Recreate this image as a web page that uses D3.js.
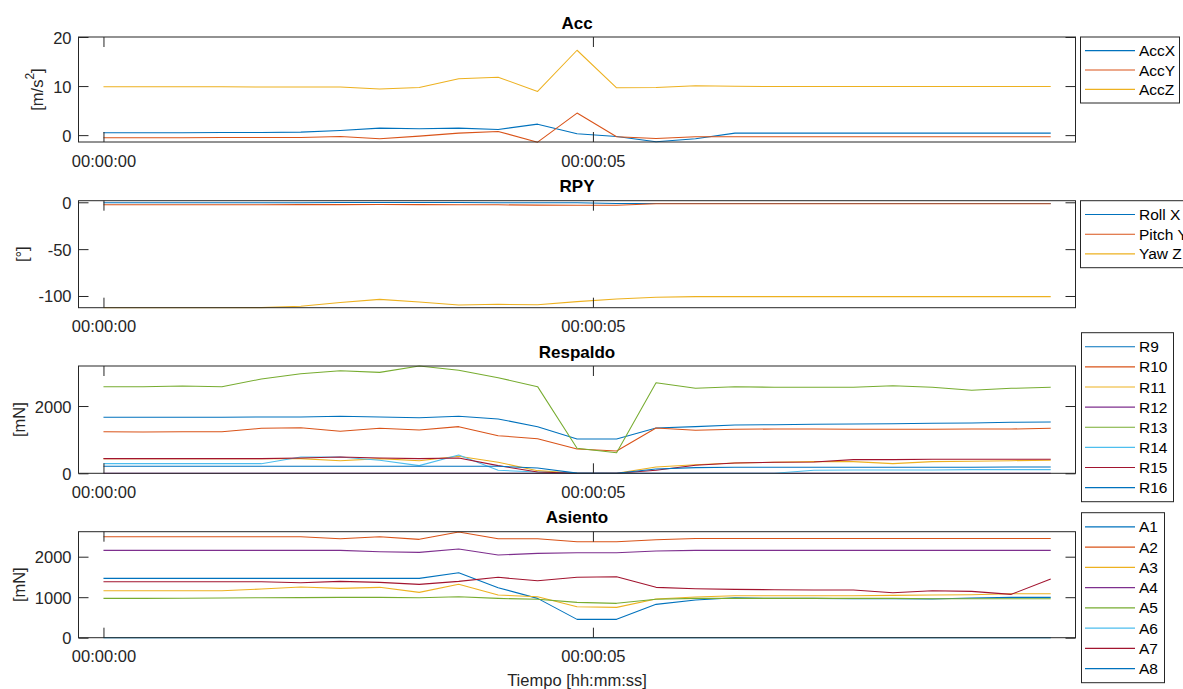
<!DOCTYPE html>
<html><head><meta charset="utf-8">
<script src="https://cdn.jsdelivr.net/npm/d3@7/dist/d3.min.js"></script>
<style>
body{margin:0;background:#fff}
svg{display:block}
text{font-family:"Liberation Sans",Arial,Helvetica,sans-serif}
</style>
</head><body>
<svg id="chart" width="1183" height="689"></svg>
<script>
// ---------- data ----------
const sampleTimes = [0, 0.403, 0.806, 1.210, 1.613, 2.016, 2.419, 2.822, 3.226, 3.629, 4.032, 4.435, 4.838,
  5.242, 5.645, 6.048, 6.451, 6.854, 7.258, 7.661, 8.064, 8.467, 8.870, 9.274, 9.677];
const xTickValues = [0, 5];
const xTickLabels = ["00:00:00", "00:00:05"];

const accNames = ["AccX", "AccY", "AccZ"];
const accX = [0.48,0.48,0.50,0.52,0.55,0.61,0.95,1.43,1.29,1.43,1.16,2.24,0.27,-0.27,-1.36,-0.75,0.41,0.41,0.41,0.41,0.41,0.41,0.41,0.41,0.41];
const accY = [-0.54,-0.54,-0.52,-0.50,-0.50,-0.48,-0.27,-0.75,-0.20,0.41,0.75,-1.43,4.50,-0.34,-0.70,-0.34,-0.34,-0.34,-0.34,-0.34,-0.34,-0.34,-0.34,-0.34,-0.34];
const accZ = [9.85,9.85,9.85,9.85,9.80,9.80,9.80,9.40,9.70,11.5,11.8,8.90,17.3,9.65,9.70,10.05,9.95,9.90,9.90,9.90,9.90,9.90,9.90,9.90,9.90];
const accTicks = [0, 10, 20];

const rpyNames = ["Roll X", "Pitch Y", "Yaw Z"];
const rollX  = [-0.5,-0.5,-0.5,-0.5,-0.5,-0.4,-0.3,-0.2,-0.3,-0.3,-0.4,-0.5,-0.4,-1.2,-1.2,-1.2,-1.2,-1.2,-1.2,-1.2,-1.2,-1.2,-1.2,-1.2,-1.2];
const pitchY = [-2.6,-2.6,-2.6,-2.6,-2.6,-2.5,-2.5,-2.4,-2.5,-2.6,-2.7,-3.0,-3.1,-3.2,-1.6,-1.5,-1.5,-1.5,-1.5,-1.5,-1.5,-1.5,-1.5,-1.5,-1.5];
const yawZ   = [-112.5,-112.5,-112.5,-112.5,-112.4,-111,-107,-103.6,-106.4,-109.6,-108.9,-109.3,-106,-103.2,-101.4,-100.7,-100.7,-100.7,-100.7,-100.7,-100.7,-100.7,-100.7,-100.7,-100.7];
const rpyTicks = [-100, -50, 0];

const respaldoNames = ["R9","R10","R11","R12","R13","R14","R15","R16"];
const r9  = [1664,1664,1664,1664,1674,1674,1694,1674,1654,1694,1615,1387,1020,1020,1347,1387,1436,1446,1456,1466,1476,1486,1496,1516,1525];
const r10 = [1238,1228,1238,1238,1337,1357,1248,1337,1288,1387,1119,1030,723,664,1347,1278,1307,1317,1317,1307,1307,1307,1317,1317,1337];
const r11 = [436,436,436,436,436,436,376,436,376,505,327,79,0,0,188,257,307,327,347,347,287,347,357,376,386];
const r12 = [0,0,0,0,0,0,0,0,0,0,0,0,0,0,0,0,0,0,0,0,0,0,0,0,0];
const r13 = [2576,2576,2595,2576,2803,2962,3051,3001,3190,3061,2843,2576,743,614,2694,2526,2576,2556,2556,2556,2605,2556,2467,2526,2556];
const r14 = [287,287,287,287,287,485,485,386,228,545,89,40,10,0,0,0,0,0,90,100,100,100,110,110,110];
const r15 = [436,436,436,436,436,455,485,455,436,455,228,40,0,0,89,238,307,327,337,406,406,416,416,416,416];
const r16 = [208,208,208,208,208,208,208,208,208,208,208,160,5,0,129,168,178,178,178,178,178,178,178,188,188];
const respaldoTicks = [0, 2000];

const asientoNames = ["A1","A2","A3","A4","A5","A6","A7","A8"];
const a1 = [1465,1465,1465,1465,1465,1465,1465,1465,1465,1605,1235,971,453,453,823,930,988,971,971,963,963,955,980,996,996];
const a2 = [2494,2494,2494,2494,2494,2494,2444,2494,2428,2609,2444,2444,2370,2370,2420,2450,2450,2450,2450,2450,2450,2450,2450,2450,2450];
const a3 = [1160,1160,1160,1160,1200,1251,1218,1243,1119,1317,1053,1012,765,749,955,1004,1037,1037,1037,1037,1045,1053,1061,1086,1086];
const a4 = [2156,2156,2156,2156,2156,2156,2156,2123,2107,2189,2041,2082,2099,2099,2140,2156,2156,2156,2156,2156,2156,2156,2156,2156,2156];
const a5 = [971,971,975,980,985,990,996,996,988,1012,971,947,872,848,947,971,971,971,971,971,971,963,963,963,963];
const a6 = [0,0,0,0,0,0,0,0,0,0,0,0,0,0,0,0,0,0,0,0,0,0,0,0,0];
const a7 = [1383,1383,1383,1383,1383,1358,1391,1366,1317,1391,1490,1407,1490,1506,1243,1210,1193,1185,1177,1177,1111,1160,1144,1070,1449];
const a8 = [0,0,0,0,0,0,0,0,0,0,0,0,0,0,0,0,0,0,0,0,0,0,0,0,0];
const asientoTicks = [0, 1000, 2000];

const lineColors = ["#0072BD","#D95319","#EDB120","#7E2F8E","#77AC30","#4DBEEE","#A2142F"];

// ---------- layout ----------
const svg = d3.select("#chart");
const X0 = 78.5, X1 = 1075.5;
const x = d3.scaleLinear().domain([-0.255, 9.93]).range([X0, X1]);
const ink = "#262626";
const TICK = 10;

const panels = [
  {title:"Acc", ylabel:"m/s2", top:37, bottom:142, domain:[-1.4,20], ticks:accTicks,
   names:accNames, series:[accX,accY,accZ], ylabX:37,
   legend:{x:1080, y:37, w:99, h:66}},
  {title:"RPY", ylabel:"[°]", top:200.7, bottom:307.7, domain:[-112.5,1.7], ticks:rpyTicks,
   names:rpyNames, series:[rollX,pitchY,yawZ], ylabX:22,
   legend:{x:1080, y:200.7, w:130, h:67}},
  {title:"Respaldo", ylabel:"[mN]", top:366, bottom:473.3, domain:[0,3190], ticks:respaldoTicks,
   names:respaldoNames, series:[r9,r10,r11,r12,r13,r14,r15,r16], ylabX:19,
   legend:{x:1081, y:332.7, w:92, h:169}},
  {title:"Asiento", ylabel:"[mN]", top:531.7, bottom:637.7, domain:[0,2617], ticks:asientoTicks,
   names:asientoNames, series:[a1,a2,a3,a4,a5,a6,a7,a8], ylabX:19, raise:5,
   legend:{x:1081, y:512.7, w:83, h:170}}
];

panels.forEach(p => {
  const g = svg.append("g");
  const y = d3.scaleLinear().domain(p.domain).range([p.bottom, p.top]);
  const clipId = "clip-" + p.title;
  svg.append("clipPath").attr("id", clipId).append("rect")
    .attr("x", X0).attr("y", p.top - 1).attr("width", X1 - X0).attr("height", p.bottom - p.top + 2);

  // lines
  const line = d3.line().x((d,i) => x(sampleTimes[i])).y(d => y(d));
  let order = p.series.map((s,i) => i);
  if (p.raise !== undefined) { order = order.filter(i => i !== p.raise).concat([p.raise]); }
  const lg = g.append("g").attr("clip-path", `url(#${clipId})`);
  order.forEach(i => {
    lg.append("path").datum(p.series[i])
      .attr("d", line).attr("fill","none")
      .attr("stroke", lineColors[i % lineColors.length]).attr("stroke-width", 1.05)
      .attr("stroke-linejoin","round");
  });

  // box
  g.append("rect").attr("x", X0).attr("y", p.top).attr("width", X1 - X0).attr("height", p.bottom - p.top)
    .attr("fill","none").attr("stroke", ink).attr("stroke-width", 1);

  // axes via d3
  const ax = g.append("g").attr("transform", `translate(0,${p.bottom})`)
    .call(d3.axisBottom(x).tickValues(xTickValues).tickFormat((d,i) => xTickLabels[i]).tickSizeInner(-TICK).tickSizeOuter(0).tickPadding(13));
  const axTop = g.append("g").attr("transform", `translate(0,${p.top})`)
    .call(d3.axisTop(x).tickValues(xTickValues).tickFormat("").tickSizeInner(-TICK).tickSizeOuter(0));
  const ay = g.append("g").attr("transform", `translate(${X0},0)`)
    .call(d3.axisLeft(y).tickValues(p.ticks).tickFormat(d => String(d)).tickSizeInner(-TICK).tickSizeOuter(0).tickPadding(7));
  const ayR = g.append("g").attr("transform", `translate(${X1},0)`)
    .call(d3.axisRight(y).tickValues(p.ticks).tickFormat("").tickSizeInner(-TICK).tickSizeOuter(0));
  [ax, axTop, ay, ayR].forEach(a => {
    a.select(".domain").remove();
    a.selectAll(".tick line").attr("stroke", ink).attr("stroke-width", 1);
    a.selectAll("text").attr("fill", ink).style("font-size","16.5px")
      .style("font-family",'"Liberation Sans",Arial,sans-serif');
  });
  ax.selectAll("text").attr("dy", null).attr("dominant-baseline","central").attr("y", 18.5);
  ay.selectAll("text").attr("dy", null).attr("dominant-baseline","central");

  // title
  g.append("text").attr("x", (X0 + X1) / 2).attr("y", p.top - 14)
    .attr("text-anchor","middle").attr("dominant-baseline","central")
    .style("font-size","17px").style("font-weight","bold").attr("fill","#000").text(p.title);

  // y label
  const yl = g.append("text")
    .attr("transform", `translate(${p.ylabX},${(p.top + p.bottom) / 2}) rotate(-90)`)
    .attr("text-anchor","middle").attr("dominant-baseline","central")
    .style("font-size","16.5px").attr("fill", ink);
  if (p.ylabel === "m/s2") {
    yl.append("tspan").text("[m/s");
    yl.append("tspan").text("2").style("font-size","12px").attr("dy", -7);
    yl.append("tspan").text("]").attr("dy", 7);
  } else {
    yl.text(p.ylabel);
  }

  // legend
  const L = p.legend;
  const leg = svg.append("g");
  leg.append("rect").attr("x", L.x + 0.5).attr("y", L.y).attr("width", L.w).attr("height", L.h)
    .attr("fill","#fff").attr("stroke", ink).attr("stroke-width", 1);
  const n = p.names.length;
  const step = (L.h - 8) / n;
  p.names.forEach((name, i) => {
    const cy = L.y + 4 + step * (i + 0.5);
    leg.append("line").attr("x1", 1085).attr("x2", 1135).attr("y1", cy).attr("y2", cy)
      .attr("stroke", lineColors[i % lineColors.length]).attr("stroke-width", 1.1);
    leg.append("text").attr("x", 1139).attr("y", cy).attr("dominant-baseline","central")
      .style("font-size","15.5px").attr("fill","#000").text(name);
  });
});

svg.append("text").attr("x", (X0 + X1) / 2).attr("y", 680)
  .attr("text-anchor","middle").attr("dominant-baseline","central")
  .style("font-size","16.5px").attr("fill", ink).text("Tiempo [hh:mm:ss]");
</script>
</body></html>
